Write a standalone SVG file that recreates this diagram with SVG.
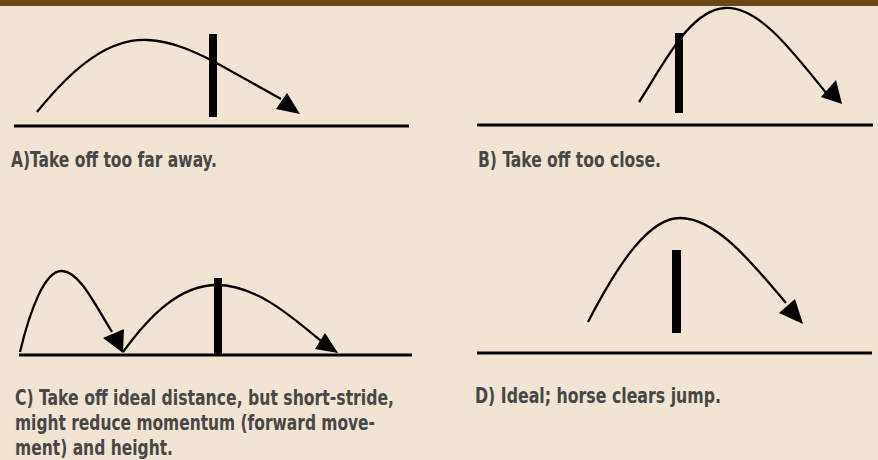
<svg xmlns="http://www.w3.org/2000/svg" width="878" height="460" viewBox="0 0 878 460">
  <style>
    .ground { stroke: #000; stroke-width: 3; fill: none; }
    .arc { stroke: #000; stroke-width: 2.3; fill: none; }
    .post { fill: #000; }
    .head { fill: #000; }
    .lbl { font-family: "Liberation Sans Narrow", "DejaVu Sans Condensed", "Liberation Sans", sans-serif; font-stretch: condensed; font-weight: bold; font-size: 20.5px; fill: #474747; }
  </style>
  <rect x="0" y="0" width="878" height="460" fill="#F2E4D2"/>
  <rect x="0" y="0" width="878" height="6" fill="#6B4716"/>

  <g id="panelA">
    <line class="ground" x1="14" y1="126" x2="409" y2="126"/>
    <path class="arc" d="M37,112 C75,65 110,38 148,40 C172,41 195,52 213,61 L281,99"/>
    <polygon class="head" points="276,109 287,93 300,114"/>
    <rect class="post" x="209" y="34" width="8" height="83"/>
    <text class="lbl" x="11" y="167" textLength="206" lengthAdjust="spacingAndGlyphs">A)Take off too far away.</text>
  </g>

  <g id="panelB">
    <line class="ground" x1="477" y1="125" x2="873" y2="125"/>
    <path class="arc" d="M639,102 C665,62 690,10 725,8 C760,6 795,55 827,94"/>
    <polygon class="head" points="821,97 836,80 842,104"/>
    <rect class="post" x="675" y="33" width="8" height="80"/>
    <text class="lbl" x="478" y="167" textLength="183" lengthAdjust="spacingAndGlyphs">B) Take off too close.</text>
  </g>

  <g id="panelC">
    <line class="ground" x1="19" y1="355" x2="412" y2="355"/>
    <path class="arc" d="M20,352 C30,310 45,270 62,271 C80,272 95,305 112,332"/>
    <polygon class="head" points="103,338 124,329 123,353"/>
    <path class="arc" d="M123,352 C150,315 180,285 217,285 C255,285 290,315 321,341"/>
    <polygon class="head" points="315,349 325,333 338,353"/>
    <rect class="post" x="214" y="278" width="8" height="77"/>
    <text class="lbl" x="15" y="405" textLength="379" lengthAdjust="spacingAndGlyphs">C) Take off ideal distance, but short-stride,</text>
    <text class="lbl" x="15" y="430" textLength="360" lengthAdjust="spacingAndGlyphs">might reduce momentum (forward move-</text>
    <text class="lbl" x="15" y="455" textLength="158" lengthAdjust="spacingAndGlyphs">ment) and height.</text>
  </g>

  <g id="panelD">
    <line class="ground" x1="477" y1="353" x2="872" y2="353"/>
    <path class="arc" d="M588,322 C620,260 650,218 680,218 C715,218 750,260 786,303"/>
    <polygon class="head" points="779,313 795,299 803,324"/>
    <rect class="post" x="672" y="250" width="9" height="83"/>
    <text class="lbl" x="475" y="403" textLength="246" lengthAdjust="spacingAndGlyphs">D) Ideal; horse clears jump.</text>
  </g>
</svg>
